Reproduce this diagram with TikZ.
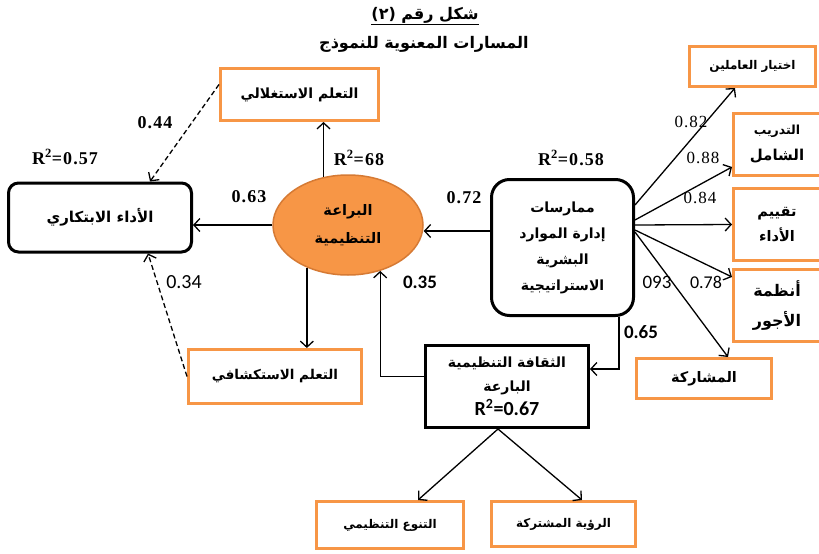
\documentclass[tikz,border=0pt]{standalone}
\usepackage{fontspec}
\setmainfont{Liberation Serif}
\newfontfamily\arabicfont[Script=Arabic]{DejaVu Sans}
\newfontfamily\calfont{Carlito}
\newfontfamily\serifsp[LetterSpace=6]{Liberation Serif}
\TeXXeTstate=1
\usetikzlibrary{arrows.meta,shapes.geometric}
\definecolor{orng}{RGB}{247,150,70}
\definecolor{orngdark}{RGB}{214,122,52}
\newcommand{\ar}[1]{\beginR #1\endR}
\newcommand{\fsz}[2]{\fontsize{#1}{#2}\selectfont}
\begin{document}
\begin{tikzpicture}[x=1pt,y=-1pt,
  obox/.style={draw=orng,line width=3pt,fill=white,inner sep=0pt,align=center,font=\arabicfont\bfseries\fsz{14}{26}},
  bbox/.style={draw=black,line width=3pt,fill=white,inner sep=0pt,align=center,font=\arabicfont\bfseries\fsz{14}{26}},
  arr/.style={line width=1.3pt,-{Straight Barb[length=6pt,width=13pt]}},
  dsh/.style={arr,dash pattern=on 5pt off 3pt},
  lbb/.style={font=\serifsp\bfseries\fsz{18}{20},inner sep=0pt},
  lbr/.style={font=\serifsp\fsz{17}{20},inner sep=0pt},
  lcs/.style={font=\calfont\fsz{20}{22},inner sep=0pt},
  lcb/.style={font=\calfont\bfseries\fsz{19}{22},inner sep=0pt},
  ttl/.style={font=\arabicfont\bfseries\fsz{16}{18},inner sep=0pt}
]
\useasboundingbox (0,0) rectangle (819,554);
\fill[white] (0,0) rectangle (819,554);

% title
\node[ttl] (t1) at (425,16) {\underline{(٢) \ar{شكل رقم}}};
\node[ttl] (t2) at (424,44) {\ar{المسارات المعنوية للنموذج}};

% nodes
\node[obox,minimum width=158pt,minimum height=52pt] (expl) at (299.5,94.5) {\ar{التعلم الاستغلالي}};
\node[bbox,rounded corners=10pt,minimum width=183pt,minimum height=69pt,font=\arabicfont\bfseries\fsz{15}{26}] (perf) at (100,217.5) {\ar{الأداء الابتكاري}};
\node[ellipse,draw=orngdark,line width=1.5pt,fill=orng,minimum width=150pt,minimum height=100pt,inner sep=0pt,align=center,font=\arabicfont\bfseries\fsz{14.5}{28}] (ell) at (348,225) {\ar{البراعة}\\\ar{التنظيمية}};
\node[obox,minimum width=173pt,minimum height=54pt,font=\arabicfont\bfseries\fsz{13.5}{26}] (explor) at (275,376.5) {\ar{التعلم الاستكشافي}};
\node[bbox,rounded corners=18pt,minimum width=142pt,minimum height=136pt,font=\arabicfont\bfseries\fsz{14}{26}] (hrm) at (562.5,247.5) {\ar{ممارسات}\\\ar{إدارة الموارد}\\\ar{البشرية}\\\ar{الاستراتيجية}};
\node[bbox,minimum width=163pt,minimum height=82pt,font=\arabicfont\bfseries\fsz{14}{24}] (cult) at (507,386.5) {\ar{الثقافة التنظيمية}\\\ar{البارعة}\\{\calfont\fsz{20}{24}R\textsuperscript{2}=0.67}};
\node[obox,minimum width=126pt,minimum height=40pt,font=\arabicfont\bfseries\fsz{12}{24}] (sel) at (752.5,66.5) {\ar{اختيار العاملين}};
\node[obox,minimum width=87pt,minimum height=62pt,font=\arabicfont\bfseries\fsz{15}{26}] (train) at (777,144.5) {{\fsz{12.5}{26}\ar{التدريب}}\\\ar{الشامل}};
\node[obox,minimum width=87pt,minimum height=72pt,font=\arabicfont\bfseries\fsz{14.5}{25}] (eval) at (777,224.5) {\ar{تقييم}\\\ar{الأداء}};
\node[obox,minimum width=87pt,minimum height=72pt,font=\arabicfont\bfseries\fsz{16}{30}] (wage) at (777,305.5) {\ar{أنظمة}\\\ar{الأجور}};
\node[obox,minimum width=135pt,minimum height=40pt,font=\arabicfont\bfseries\fsz{14.5}{24}] (part) at (704,378.5) {\ar{المشاركة}};
\node[obox,minimum width=147pt,minimum height=47pt,font=\arabicfont\bfseries\fsz{12}{24}] (div) at (390,525) {\ar{التنوع التنظيمي}};
\node[obox,minimum width=144pt,minimum height=45pt,font=\arabicfont\bfseries\fsz{12}{24}] (vis) at (563.5,524) {\ar{الرؤية المشتركة}};

% connectors
\draw[arr] (ell.117) -- (ell.117 |- expl.south);
\draw[arr] (ell.west) -- (ell.west -| perf.east);
\draw[arr] (ell.226) -- (ell.226 |- explor.north);
\draw[arr] ([yshift=10pt]cult.west) -| (ell.305);
\draw[arr] ([yshift=16.5pt]hrm.west) coordinate (hw) -- (hw -| ell.east);
\draw[dsh] ([yshift=10pt]expl.west) -- ([xshift=50pt]perf.north);
\draw[dsh] (explor.west) -- ([xshift=48pt]perf.south);

\draw[arr] ([yshift=42.5pt]hrm.east) -- ([xshift=-17.5pt]sel.south);
\draw[arr] ([yshift=27.5pt]hrm.east) -- ([yshift=-22.5pt]train.west);
\draw[arr] ([yshift=22.5pt]hrm.east) -- (eval.west);
\draw[arr] ([yshift=17.5pt]hrm.east) -- ([yshift=28.5pt]wage.west);
\draw[arr] ([yshift=15.5pt]hrm.east) -- ([xshift=24pt]part.north);
\draw[arr] ([xshift=56.5pt]hrm.south) |- ([yshift=17.5pt]cult.east);
\draw[arr] ([xshift=-9pt]cult.south) -- ([xshift=28pt]div.north);
\draw[arr] ([xshift=-9pt]cult.south) -- ([xshift=18.5pt]vis.north);

% labels
\node[lbb] (r057) at (65,157) {R\textsuperscript{2}=0.57};
\node[lbb] (l044) at (155,123) {0.44};
\node[lbb] (r68) at (359,158) {R\textsuperscript{2}=68};
\node[lbb] (l063) at (249,197) {0.63};
\node[lbb] (l072) at (464,198) {0.72};
\node[lbb] (r058) at (571,158) {R\textsuperscript{2}=0.58};
\node[lbr] (l082) at (691,122) {0.82};
\node[lbr] (l088) at (703,158) {0.88};
\node[lbr] (l084) at (700,198) {0.84};
\node[lcs] (l034) at (184,282) {0.34};
\node[lcb] (l035) at (420,282) {0.35};
\node[lcs,font=\calfont\fsz{19}{22}] (l093) at (657,282) {093};
\node[lcs,font=\calfont\fsz{18}{22}] (l078) at (706,282) {0.78};
\node[lcb] (l065) at (641,332) {0.65};
\end{tikzpicture}
\end{document}
